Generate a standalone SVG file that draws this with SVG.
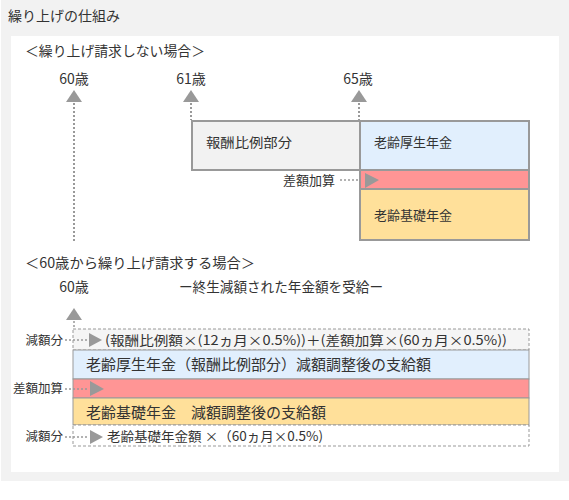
<svg xmlns="http://www.w3.org/2000/svg" width="569" height="500" viewBox="0 0 569 500">
<style>
text{font-family:"Noto Sans CJK JP","Noto Sans",sans-serif;fill:#333}
.t12{font-size:12.5px}
.t13{font-size:13px}
.t14{font-size:14px}
.t15{font-size:15px}
.dot{stroke:#999;stroke-width:2;stroke-dasharray:2 2;fill:none}
.dot1{stroke:#999;stroke-width:1.5;stroke-dasharray:2 2;fill:none}
.tri{fill:#999}
.box{stroke:#999;stroke-width:2}
.band{stroke:#999;stroke-width:1}
.dash{stroke:#999;stroke-width:1;stroke-dasharray:3 2}
</style>
<rect x="1" y="0" width="568" height="481" fill="#f2f2f2"/>
<rect x="11" y="36" width="548" height="436" fill="#fff"/>
<text x="8" y="21" class="t14" textLength="112" lengthAdjust="spacingAndGlyphs">繰り上げの仕組み</text>

<g id="section1">
<text x="25" y="56" class="t14" textLength="180" lengthAdjust="spacingAndGlyphs">＜繰り上げ請求しない場合＞</text>
<text x="74" y="84" class="t14" text-anchor="middle">60歳</text>
<text x="191" y="84" class="t14" text-anchor="middle">61歳</text>
<text x="358" y="84" class="t14" text-anchor="middle">65歳</text>
</g>

<g id="node-houshu">
<rect x="192" y="121" width="168" height="49" fill="#f2f2f2" class="box"/>
<text x="206" y="147" class="t13" textLength="86" lengthAdjust="spacingAndGlyphs">報酬比例部分</text>
</g>
<g id="node-kousei">
<rect x="360" y="121" width="169" height="49" fill="#e1effd" class="box"/>
<text x="374" y="147" class="t13" textLength="78" lengthAdjust="spacingAndGlyphs">老齢厚生年金</text>
</g>
<g id="node-sagaku">
<rect x="360" y="170" width="169" height="19" fill="#ff9595" class="box"/>
</g>
<g id="node-kiso">
<rect x="360" y="189" width="169" height="51" fill="#ffe09a" class="box"/>
<text x="374" y="220" class="t13" textLength="78" lengthAdjust="spacingAndGlyphs">老齢基礎年金</text>
</g>
<text x="335" y="185" class="t13" text-anchor="end">差額加算</text>

<g id="section2">
<text x="25" y="268" class="t14" textLength="230" lengthAdjust="spacingAndGlyphs">＜60歳から繰り上げ請求する場合＞</text>
<text x="74" y="292" class="t14" text-anchor="middle">60歳</text>
<text x="179" y="292" class="t14" textLength="204" lengthAdjust="spacingAndGlyphs">ー終生減額された年金額を受給ー</text>
</g>

<g id="node-gengaku1">
<rect x="73" y="329" width="456" height="21" fill="#f5f5f5" class="dash"/>
<text x="105" y="345" class="t13" textLength="402" lengthAdjust="spacingAndGlyphs">(報酬比例額×(12ヵ月×0.5%))＋(差額加算×(60ヵ月×0.5%))</text>
</g>
<g id="node-kousei2">
<rect x="73" y="350" width="456" height="29" fill="#e1effd" class="band"/>
<text x="86" y="370" class="t15">老齢厚生年金（報酬比例部分）減額調整後の支給額</text>
</g>
<g id="node-sagaku2">
<rect x="73" y="379" width="456" height="19" fill="#ff9595" class="band"/>
</g>
<g id="node-kiso2">
<rect x="73" y="398" width="456" height="27" fill="#ffe09a" class="band"/>
<text x="86" y="418" class="t15">老齢基礎年金　減額調整後の支給額</text>
</g>
<g id="node-gengaku2">
<rect x="73" y="425" width="456" height="21" fill="#fff" class="dash"/>
<text x="107" y="441" class="t13" textLength="216" lengthAdjust="spacingAndGlyphs">老齢基礎年金額 ×（60ヵ月×0.5%)</text>
</g>
<text x="63" y="345" class="t12" text-anchor="end">減額分</text>
<text x="63" y="393" class="t12" text-anchor="end">差額加算</text>
<text x="63" y="441" class="t12" text-anchor="end">減額分</text>

<g id="connectors">
<line x1="74" y1="103" x2="74" y2="241" class="dot"/>
<polygon points="74,90 66,102 82,102" class="tri"/>
<line x1="191" y1="103" x2="191" y2="120" class="dot"/>
<polygon points="191,90 183,102 199,102" class="tri"/>
<line x1="359" y1="103" x2="359" y2="120" class="dot"/>
<polygon points="359,90 351,102 367,102" class="tri"/>
<line x1="340" y1="180" x2="358" y2="180" class="dot1"/>
<polygon points="365,173 379,180 365,188" class="tri"/>

<line x1="74" y1="321" x2="74" y2="329" class="dot1"/>
<polygon points="74,308 66,320 82,320" class="tri"/>
<line x1="65" y1="340" x2="89" y2="340" class="dot1"/>
<polygon points="89,333 102,340 89,347" class="tri"/>
<line x1="65" y1="389" x2="89" y2="389" class="dot1"/>
<polygon points="90,381 104,389 90,396" class="tri"/>
<line x1="65" y1="437" x2="89" y2="437" class="dot1"/>
<polygon points="90,430 103,437 90,444" class="tri"/>
</g>
</svg>
